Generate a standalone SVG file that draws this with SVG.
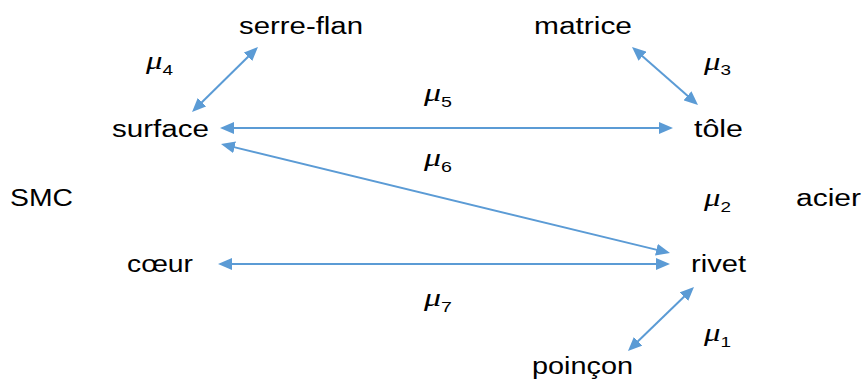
<svg xmlns="http://www.w3.org/2000/svg" width="863" height="381" viewBox="0 0 863 381">
<style>
  .lbl { font-family: "Liberation Sans", Arial, sans-serif; font-size: 23px; fill: #000; }
  .mu { font-family: "Liberation Serif", "DejaVu Serif", serif; font-style: italic; font-size: 26px; fill: #000; }
  .sub { font-family: "Liberation Sans", Arial, sans-serif; font-style: normal; font-size: 15px; }
  .conn { stroke: #5B9BD5; stroke-width: 2; fill: none; marker-start: url(#ah); marker-end: url(#ah); }
</style>
<defs>
  <marker id="ah" viewBox="0 0 14 12" refX="8" refY="6" markerWidth="14" markerHeight="12" markerUnits="userSpaceOnUse" orient="auto-start-reverse">
    <path d="M0,0 L14,6 L0,12 z" fill="#5B9BD5"/>
  </marker>
</defs>
<rect width="863" height="381" fill="#fff"/>

<g id="connectors">
  <line class="conn" x1="253.7" y1="51.2" x2="196.3" y2="107.8"/>
  <line class="conn" x1="636.5" y1="51" x2="693.5" y2="101"/>
  <line class="conn" x1="226" y1="128" x2="667" y2="128"/>
  <line class="conn" x1="226.8" y1="145.4" x2="664.2" y2="251.6"/>
  <line class="conn" x1="224" y1="264" x2="664" y2="264"/>
  <line class="conn" x1="689.7" y1="291.2" x2="632.3" y2="346.8"/>
  <text class="mu" x="146" y="69" textLength="27" lengthAdjust="spacingAndGlyphs">μ<tspan class="sub" dy="6">4</tspan></text>
  <text class="mu" x="704" y="70" textLength="27" lengthAdjust="spacingAndGlyphs">μ<tspan class="sub" dy="5">3</tspan></text>
  <text class="mu" x="424" y="101" textLength="28" lengthAdjust="spacingAndGlyphs">μ<tspan class="sub" dy="6">5</tspan></text>
  <text class="mu" x="424" y="166" textLength="28" lengthAdjust="spacingAndGlyphs">μ<tspan class="sub" dy="6">6</tspan></text>
  <text class="mu" x="704" y="206" textLength="27" lengthAdjust="spacingAndGlyphs">μ<tspan class="sub" dy="6">2</tspan></text>
  <text class="mu" x="424" y="306" textLength="28" lengthAdjust="spacingAndGlyphs">μ<tspan class="sub" dy="6">7</tspan></text>
  <text class="mu" x="704" y="341" textLength="27" lengthAdjust="spacingAndGlyphs">μ<tspan class="sub" dy="6">1</tspan></text>
</g>

<g id="serre-flan"><text class="lbl" x="239" y="34" textLength="124" lengthAdjust="spacingAndGlyphs">serre-flan</text></g>
<g id="matrice"><text class="lbl" x="534" y="34" textLength="98" lengthAdjust="spacingAndGlyphs">matrice</text></g>
<g id="surface"><text class="lbl" x="112" y="137" textLength="97" lengthAdjust="spacingAndGlyphs">surface</text></g>
<g id="tole"><text class="lbl" x="694" y="137" textLength="49" lengthAdjust="spacingAndGlyphs">tôle</text></g>
<g id="SMC"><text class="lbl" x="10" y="206" textLength="63" lengthAdjust="spacingAndGlyphs">SMC</text></g>
<g id="acier"><text class="lbl" x="796" y="206" textLength="65" lengthAdjust="spacingAndGlyphs">acier</text></g>
<g id="coeur"><text class="lbl" x="127" y="272" textLength="66" lengthAdjust="spacingAndGlyphs">cœur</text></g>
<g id="rivet"><text class="lbl" x="691" y="272" textLength="55" lengthAdjust="spacingAndGlyphs">rivet</text></g>
<g id="poincon"><text class="lbl" x="532" y="374" textLength="101" lengthAdjust="spacingAndGlyphs">poinçon</text></g>
</svg>
